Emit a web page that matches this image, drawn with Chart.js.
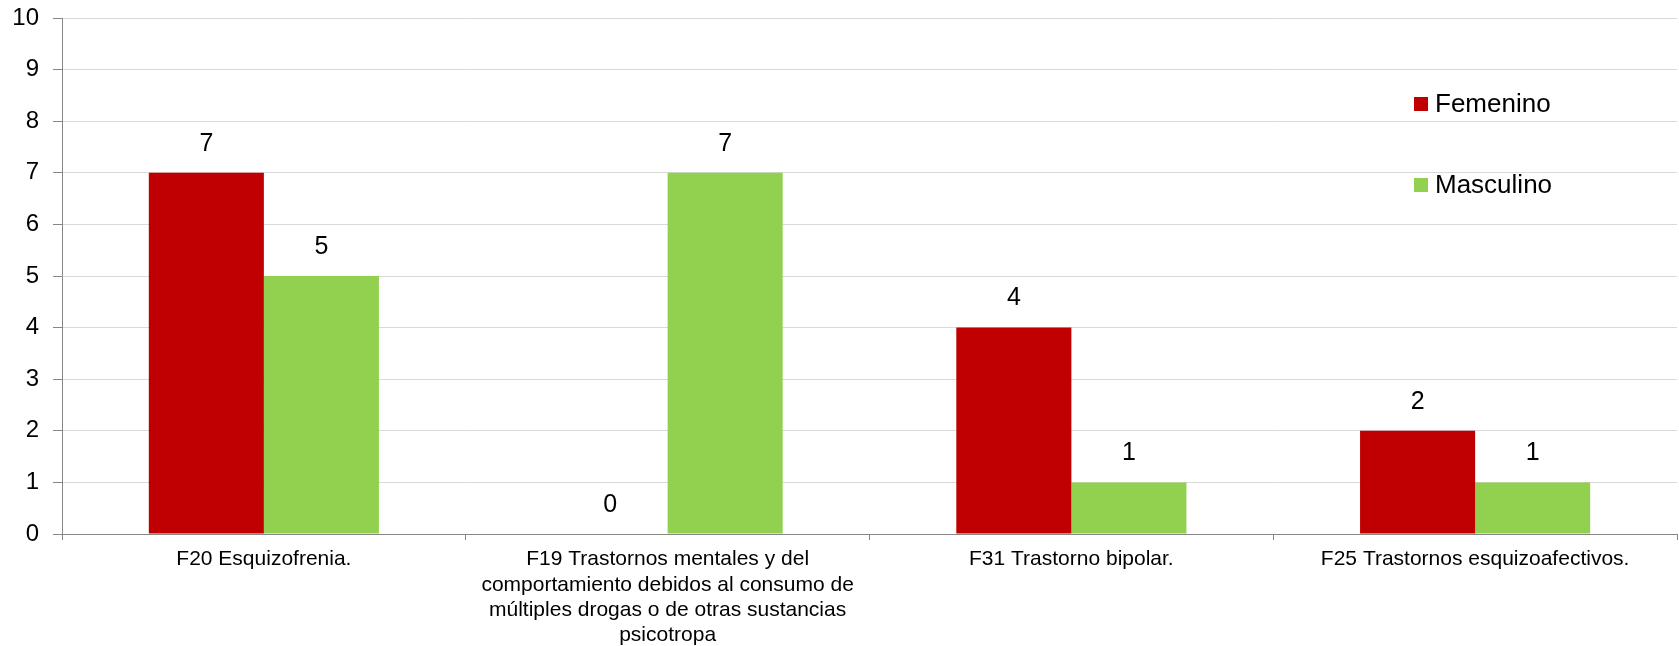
<!DOCTYPE html>
<html>
<head>
<meta charset="utf-8">
<script src="https://cdn.jsdelivr.net/npm/chart.js@4"></script>
<style>
    html, body { margin: 0; padding: 0; background: #fff; }
    #wrap { width: 1679px; height: 646px; position: relative; }
</style>
</head>
<body>
<div id="wrap"><canvas id="chart"></canvas></div>
<script>
const categories = [
    'F20 Esquizofrenia.',
    ['F19 Trastornos mentales y del', 'comportamiento debidos al consumo de', 'múltiples drogas o de otras sustancias', 'psicotropa'],
    'F31 Trastorno bipolar.',
    'F25 Trastornos esquizoafectivos.'
];
const femenino = [7, 0, 4, 2];
const masculino = [5, 7, 1, 1];
const seriesNames = ['Femenino', 'Masculino'];
const seriesColors = ['#c00000', '#92d050'];
const yMin = 0, yMax = 10, yStep = 1;

const FONT = '"Liberation Sans", Arial, sans-serif';

// value labels above each bar
const valueLabels = {
    id: 'valueLabels',
    afterDatasetsDraw(chart) {
        const ctx = chart.ctx;
        ctx.save();
        ctx.font = '25px ' + FONT;
        ctx.fillStyle = '#000';
        ctx.textAlign = 'center';
        ctx.textBaseline = 'middle';
        chart.data.datasets.forEach((ds, i) => {
            chart.getDatasetMeta(i).data.forEach((bar, j) => {
                ctx.fillText(String(ds.data[j]), bar.x, bar.y - 29);
            });
        });
        ctx.restore();
    }
};

// legend drawn inside the plot on the right
const sideLegend = {
    id: 'sideLegend',
    afterDraw(chart) {
        const ctx = chart.ctx;
        const ys = [104, 185];
        ctx.save();
        ctx.font = '26px ' + FONT;
        ctx.textBaseline = 'middle';
        chart.data.datasets.forEach((ds, i) => {
            ctx.fillStyle = ds.backgroundColor;
            ctx.fillRect(1414, ys[i] - 7, 14, 14);
            ctx.fillStyle = '#000';
            ctx.fillText(ds.label, 1435, ys[i] + 1);
        });
        ctx.restore();
    }
};

new Chart(document.getElementById('chart'), {
    type: 'bar',
    data: {
        labels: categories,
        datasets: [
            { label: seriesNames[0], data: femenino, backgroundColor: seriesColors[0] },
            { label: seriesNames[1], data: masculino, backgroundColor: seriesColors[1] }
        ]
    },
    options: {
        responsive: true,
        maintainAspectRatio: false,
        animation: false,
        layout: { padding: { top: 18, right: 2, bottom: 0, left: 0 } },
        datasets: { bar: { categoryPercentage: 0.57, barPercentage: 1.0 } },
        plugins: { legend: { display: false }, tooltip: { enabled: false } },
        scales: {
            x: {
                afterFit(scale) { scale.height = 112; },
                grid: { drawOnChartArea: false, tickLength: 6, tickColor: '#868686', offset: true },
                border: { color: '#868686', width: 1 },
                ticks: { color: '#000', font: { family: FONT, size: 21, lineHeight: 1.2 }, padding: 7, maxRotation: 0, autoSkip: false }
            },
            y: {
                min: yMin,
                max: yMax,
                afterFit(scale) {
                    scale.width = 62;
                    scale.paddingTop = 0;
                    scale.paddingBottom = 0;
                },
                grid: { color: '#d9d9d9', lineWidth: 1, tickLength: 9, tickColor: '#868686' },
                border: { color: '#868686', width: 1 },
                ticks: { stepSize: yStep, color: '#000', font: { family: FONT, size: 24 }, padding: 14 }
            }
        }
    },
    plugins: [valueLabels, sideLegend]
});
</script>
</body>
</html>
